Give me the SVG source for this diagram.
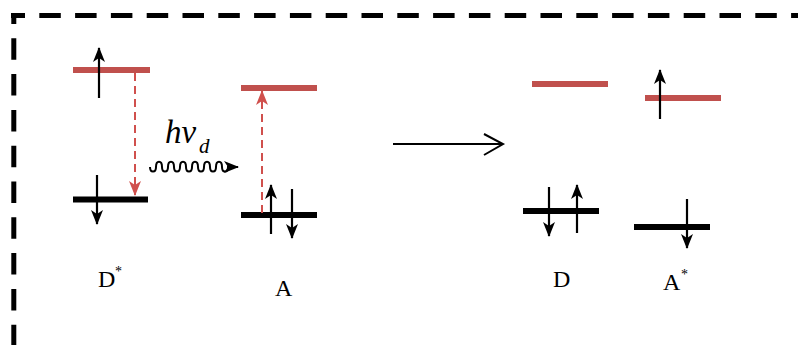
<svg xmlns="http://www.w3.org/2000/svg" width="798" height="345" viewBox="0 0 798 345">
<defs>
<style>
.frame{stroke:#000;stroke-width:5;fill:none;stroke-dasharray:21.5 14.3}
.red{stroke:#c0504d;stroke-width:6;fill:none}
.blk{stroke:#000;stroke-width:6;fill:none}
.spin{stroke:#000;stroke-width:2.2;fill:none;marker-end:url(#ah)}
.rdash{stroke:#d0504d;stroke-width:2;fill:none;stroke-dasharray:8 5;marker-end:url(#ahr)}
.lbl{font-family:"Liberation Serif","Times New Roman",serif;font-size:24px;fill:#000}
.sup{font-family:"Liberation Serif","Times New Roman",serif;font-size:14px;fill:#000}
.it{font-family:"Liberation Serif","Times New Roman",serif;font-style:italic;fill:#000}
</style>
<marker id="ah" markerUnits="userSpaceOnUse" viewBox="0 0 15 13" markerWidth="15" markerHeight="13" refX="14" refY="6.5" orient="auto">
<path d="M15,6.5 L0,0.5 L4,6.5 L0,12.5 Z" fill="#000"/>
</marker>
<marker id="ahr" markerUnits="userSpaceOnUse" viewBox="0 0 15 13" markerWidth="15" markerHeight="13" refX="14" refY="6.5" orient="auto">
<path d="M15,6.5 L0,0.5 L4,6.5 L0,12.5 Z" fill="#d0504d"/>
</marker>
</defs>
<rect width="798" height="345" fill="#fff"/>
<g id="frame">
<line class="frame" x1="11" y1="15.5" x2="800" y2="15.5" stroke-dashoffset="7.5"/>
<line class="frame" x1="13.8" y1="13" x2="13.8" y2="350" stroke-dashoffset="10.5"/>
</g>
<g id="Dstar">
<line class="red" x1="73" y1="70" x2="150" y2="70"/>
<line class="blk" x1="73" y1="199.5" x2="148" y2="199.5"/>
<line class="spin" x1="99" y1="98" x2="99" y2="48"/>
<line class="spin" x1="97" y1="175" x2="97" y2="224"/>
<text class="lbl" x="98" y="287">D</text><text class="sup" x="115" y="276">*</text>
</g>
<g id="A">
<line class="red" x1="241" y1="88" x2="317" y2="88"/>
<line class="blk" x1="241" y1="215" x2="317" y2="215"/>
<line class="spin" x1="271" y1="234" x2="271" y2="185"/>
<line class="spin" x1="292" y1="189" x2="292" y2="238"/>
<text class="lbl" x="275" y="296">A</text>
</g>
<g id="D">
<line class="red" x1="532" y1="84" x2="608" y2="84"/>
<line class="blk" x1="523" y1="211" x2="599" y2="211"/>
<line class="spin" x1="549" y1="187" x2="549" y2="236"/>
<line class="spin" x1="577" y1="233" x2="577" y2="185"/>
<text class="lbl" x="553" y="287">D</text>
</g>
<g id="Astar">
<line class="red" x1="645" y1="98" x2="721" y2="98"/>
<line class="blk" x1="634" y1="227" x2="710" y2="227"/>
<line class="spin" x1="660" y1="119" x2="660" y2="70"/>
<line class="spin" x1="687" y1="199" x2="687" y2="248"/>
<text class="lbl" x="663" y="290">A</text><text class="sup" x="681" y="279">*</text>
</g>
<g id="connectors">
<line class="rdash" x1="135" y1="73" x2="135" y2="195"/>
<line class="rdash" x1="262" y1="213" x2="262" y2="91"/>
<path d="M150,167 c0,6 6,6 6,0 c0,-7 6,-7 6,0 c0,6 6,6 6,0 c0,-7 6,-7 6,0 c0,6 6,6 6,0 c0,-7 6,-7 6,0 c0,6 6,6 6,0 c0,-7 6,-7 6,0 c0,6 6,6 6,0 c0,-7 6,-7 6,0 c0,6 6,6 6,0 c0,-7 6,-7 6,0 c0,6 6,6 6,0 l10,0" stroke="#000" stroke-width="2" fill="none" marker-end="url(#ah)"/>
<text class="it" x="165" y="143" font-size="33">hv</text>
<text class="it" x="199" y="153" font-size="21">d</text>
<line x1="393" y1="144" x2="502" y2="144" stroke="#000" stroke-width="2"/>
<polyline points="484,134 503,144 484,155" stroke="#000" stroke-width="2" fill="none"/>
</g>
</svg>
